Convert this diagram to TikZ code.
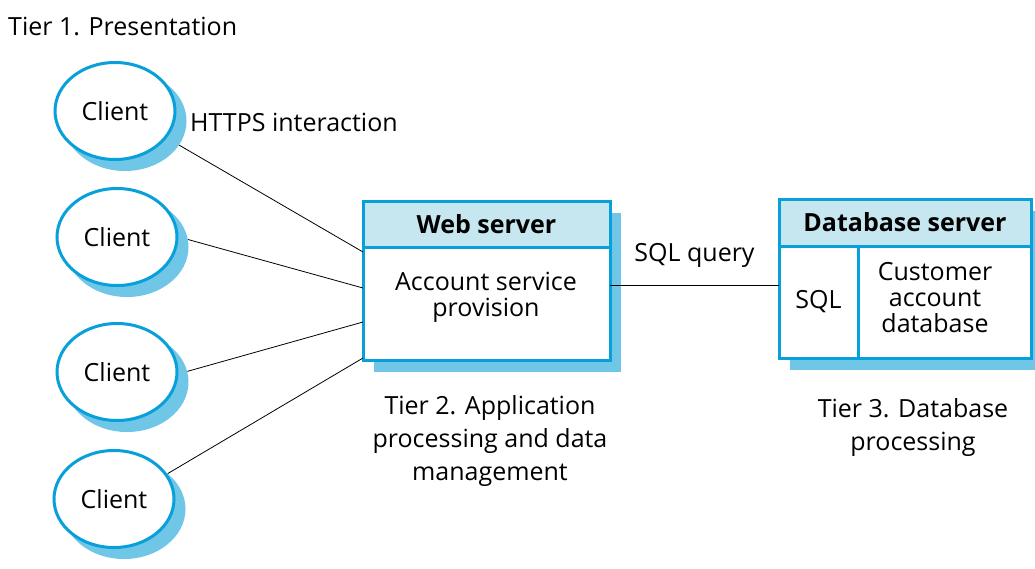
\documentclass[tikz,border=0pt]{standalone}
\usepackage{fontspec}
\setmainfont{Open Sans}
\usetikzlibrary{shapes.geometric, positioning}

\definecolor{tierblue}{RGB}{8,160,218}
\definecolor{tierlight}{RGB}{198,230,240}
\definecolor{tiershade}{RGB}{112,198,230}

\tikzset{
    client/.style = {ellipse, draw = tierblue, line width = 3pt, fill = white,
        minimum width = 120pt, minimum height = 97pt, inner sep = 0pt},
    clientshade/.style = {ellipse, fill = tiershade, minimum width = 123pt,
        minimum height = 100pt, inner sep = 0pt},
    cell/.style = {rectangle, draw = tierblue, line width = 3pt, fill = white,
        outer sep = 0pt, inner sep = 0pt},
    headcell/.style = {cell, fill = tierlight, font = \fontsize{25}{26}\selectfont\bfseries},
    caption/.style = {align = center, inner sep = 0pt}
}

\begin{document}
\begin{tikzpicture}[x = 1pt, y = -1pt, font = \fontsize{25}{33}\selectfont]
    \useasboundingbox (0, 0) rectangle (1035, 568);

    \node[anchor = west, inner sep = 0pt] (tier1) at (8, 27) {Tier 1. Presentation};

    \foreach \i/\x/\y in {1/115/111, 2/117/237, 3/117/372, 4/114/499} {
        \node[clientshade] (s\i) at (\x + 10, \y + 10) {};
        \node[client] (c\i) at (\x, \y) {Client};
    }
    \node[anchor = west, inner sep = 0pt] (https) at (190, 122) {HTTPS interaction};

    % web server
    \fill[tiershade] (374, 213) rectangle (621, 372);
    \node[headcell, minimum width = 247pt, minimum height = 46pt] (webhead) at (486.5, 224) {Web server};
    \node[cell, minimum width = 247pt, minimum height = 113pt, below = 0pt of webhead] (webbody) {};
    \node[caption, font = \fontsize{25}{26}\selectfont] (websvc) at (486, 297) {Account service\\provision};

    % database server
    \fill[tiershade] (790, 211) rectangle (1042, 370);
    \node[headcell, minimum width = 252pt, minimum height = 47pt] (dbhead) at (905, 222.5) {Database server};
    \node[cell, minimum width = 79pt, minimum height = 112pt, below right = 0pt and 0pt of dbhead.south west] (sqlcell) {SQL};
    \node[cell, minimum width = 173pt, minimum height = 112pt, right = 0pt of sqlcell] (custcell) {};
    \node[caption, font = \fontsize{25}{26}\selectfont] (custdb) at (935, 298) {Customer\\account\\database};

    \draw[thick] (s1.-24) -- ([yshift = -5pt]webbody.north west);
    \draw[thick] (s2.7) -- ([yshift = -41pt]webbody.north west);
    \draw[thick] (s3.10) -- ([yshift = -75pt]webbody.north west);
    \draw[thick] (s4.39) -- ([yshift = -111pt]webbody.north west);

    \coordinate (query) at ([yshift = 18pt]webbody.east);
    \draw[thick] (query) -- (query -| sqlcell.west) node[midway, above = 14pt] (sqlq) {SQL query};

    \node[caption] (tier2) at (490, 441) {Tier 2. Application\\processing and data\\management};
    \node[caption] (tier3) at (913, 427) {Tier 3. Database\\processing};
\end{tikzpicture}
\end{document}
